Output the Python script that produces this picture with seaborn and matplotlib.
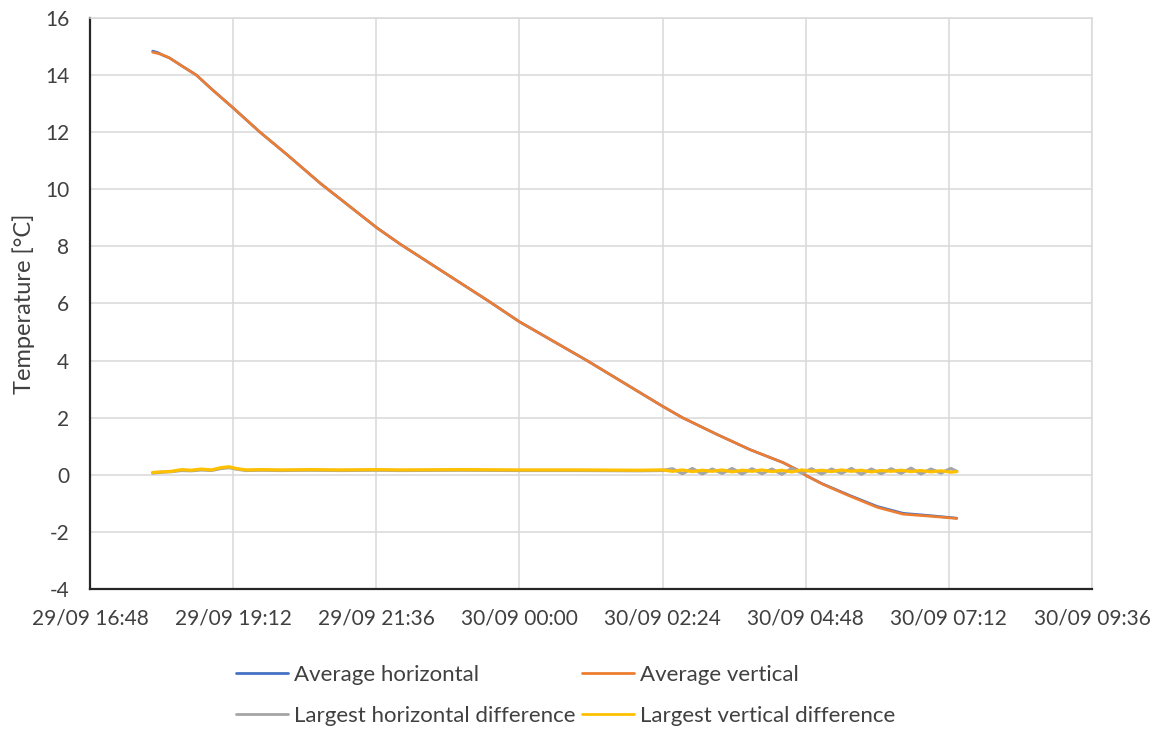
import pandas as pd
import matplotlib
matplotlib.use("Agg")
import matplotlib.pyplot as plt
import matplotlib.dates as mdates
from matplotlib.lines import Line2D
import seaborn as sns

# average temperatures
avg_times = ["2021-09-29 17:51", "2021-09-29 17:56", "2021-09-29 18:01", "2021-09-29 18:08",
             "2021-09-29 18:20", "2021-09-29 18:35", "2021-09-29 18:50", "2021-09-29 19:12",
             "2021-09-29 19:39", "2021-09-29 20:06", "2021-09-29 20:40", "2021-09-29 21:10",
             "2021-09-29 21:37", "2021-09-29 22:00", "2021-09-29 22:53", "2021-09-29 23:30",
             "2021-09-30 00:00", "2021-09-30 00:35", "2021-09-30 01:08", "2021-09-30 01:45",
             "2021-09-30 02:24", "2021-09-30 02:44", "2021-09-30 03:19", "2021-09-30 03:52",
             "2021-09-30 04:25", "2021-09-30 04:42", "2021-09-30 04:48", "2021-09-30 05:05",
             "2021-09-30 05:32", "2021-09-30 06:00", "2021-09-30 06:26", "2021-09-30 06:56",
             "2021-09-30 07:20"]
avg_horizontal = [14.84, 14.79, 14.70, 14.60, 14.33, 14.00, 13.52, 12.85, 12.00, 11.22, 10.20,
                  9.38, 8.64, 8.08, 6.89, 6.06, 5.36, 4.66, 4.00, 3.22, 2.40, 2.00, 1.41, 0.88,
                  0.43, 0.13, -0.02, -0.32, -0.72, -1.11, -1.35, -1.44, -1.52]
avg_vertical = [14.80, 14.76, 14.71, 14.60, 14.33, 14.00, 13.52, 12.85, 12.00, 11.22, 10.20,
                9.38, 8.64, 8.08, 6.89, 6.06, 5.36, 4.66, 4.00, 3.22, 2.40, 2.00, 1.41, 0.88,
                0.43, 0.13, -0.02, -0.33, -0.74, -1.14, -1.38, -1.46, -1.53]

# largest differences between sensors
diff_times = ["2021-09-29 17:51", "2021-09-29 18:00", "2021-09-29 18:10", "2021-09-29 18:20",
              "2021-09-29 18:30", "2021-09-29 18:40", "2021-09-29 18:50", "2021-09-29 19:00",
              "2021-09-29 19:08", "2021-09-29 19:15", "2021-09-29 19:25", "2021-09-29 19:40",
              "2021-09-29 20:00", "2021-09-29 20:30", "2021-09-29 21:00", "2021-09-29 21:36",
              "2021-09-29 22:00", "2021-09-29 23:00", "2021-09-30 00:00", "2021-09-30 01:00",
              "2021-09-30 02:00", "2021-09-30 02:24", "2021-09-30 02:34", "2021-09-30 02:44",
              "2021-09-30 02:54", "2021-09-30 03:04", "2021-09-30 03:14", "2021-09-30 03:24",
              "2021-09-30 03:34", "2021-09-30 03:44", "2021-09-30 03:54", "2021-09-30 04:04",
              "2021-09-30 04:14", "2021-09-30 04:24", "2021-09-30 04:34", "2021-09-30 04:44",
              "2021-09-30 04:54", "2021-09-30 05:04", "2021-09-30 05:14", "2021-09-30 05:24",
              "2021-09-30 05:34", "2021-09-30 05:44", "2021-09-30 05:54", "2021-09-30 06:04",
              "2021-09-30 06:14", "2021-09-30 06:24", "2021-09-30 06:34", "2021-09-30 06:44",
              "2021-09-30 06:54", "2021-09-30 07:04", "2021-09-30 07:14", "2021-09-30 07:20"]
largest_horizontal = [0.06, 0.09, 0.11, 0.15, 0.14, 0.17, 0.15, 0.22, 0.25, 0.20, 0.15, 0.16,
                      0.15, 0.16, 0.15, 0.16, 0.15, 0.16, 0.15, 0.15, 0.14, 0.15, 0.21, 0.04,
                      0.22, 0.03, 0.20, 0.05, 0.22, 0.03, 0.21, 0.04, 0.20, 0.02, 0.22, 0.06,
                      0.21, 0.03, 0.20, 0.05, 0.22, 0.02, 0.20, 0.04, 0.21, 0.05, 0.23, 0.03,
                      0.20, 0.06, 0.22, 0.12]
largest_vertical = [0.08, 0.10, 0.12, 0.18, 0.16, 0.20, 0.17, 0.25, 0.28, 0.22, 0.17, 0.18,
                    0.17, 0.18, 0.17, 0.18, 0.17, 0.18, 0.17, 0.17, 0.16, 0.17, 0.12, 0.17,
                    0.11, 0.16, 0.12, 0.17, 0.10, 0.16, 0.12, 0.17, 0.11, 0.16, 0.10, 0.17,
                    0.12, 0.16, 0.11, 0.17, 0.12, 0.16, 0.10, 0.15, 0.12, 0.16, 0.11, 0.15,
                    0.10, 0.14, 0.09, 0.11]

series_names = ["Average horizontal", "Average vertical",
                "Largest horizontal difference", "Largest vertical difference"]
series_colors = ["#4472C4", "#ED7D31", "#A5A5A5", "#FFC000"]

frames = []
for name, times, vals in [(series_names[0], avg_times, avg_horizontal),
                          (series_names[1], avg_times, avg_vertical),
                          (series_names[2], diff_times, largest_horizontal),
                          (series_names[3], diff_times, largest_vertical)]:
    frames.append(pd.DataFrame({"time": pd.to_datetime(times), "temp": vals, "series": name}))
df = pd.concat(frames, ignore_index=True)

sns.set_theme(style="white")
plt.rcParams["font.family"] = ["Lato", "DejaVu Sans"]
plt.rcParams["axes.unicode_minus"] = False
text_color = "#404040"

fig = plt.figure(figsize=(11.57, 7.31), dpi=100)
ax = fig.add_axes([0.0778, 0.1943, 0.8660, 0.7811])

sns.lineplot(data=df, x="time", y="temp", hue="series", hue_order=series_names,
             palette=series_colors, estimator=None, sort=False, linewidth=1.9,
             legend=False, ax=ax)
# the difference series are noisy in the source, so they read a bit thicker
for line in ax.get_lines()[2:]:
    line.set_linewidth(2.3)

x_start = pd.Timestamp("2021-09-29 16:48")
x_end = pd.Timestamp("2021-09-30 09:36")
ax.set_xlim(x_start, x_end)
ax.set_xticks(pd.date_range(x_start, x_end, freq="144min"))
ax.xaxis.set_major_formatter(mdates.DateFormatter("%d/%m %H:%M"))
ax.set_ylim(-4, 16)
ax.set_yticks(range(-4, 17, 2))

ax.grid(True, color="#D9D9D9", linewidth=1.1)
ax.set_axisbelow(True)
for side in ["top", "right"]:
    ax.spines[side].set_color("#D9D9D9")
    ax.spines[side].set_linewidth(1.1)
for side in ["left", "bottom"]:
    ax.spines[side].set_color("#262626")
    ax.spines[side].set_linewidth(1.6)

ax.tick_params(axis="both", length=0, labelsize=15, colors=text_color)
ax.tick_params(axis="y", pad=15)
ax.tick_params(axis="x", pad=14)
ax.set_xlabel("")
ax.set_ylabel("Temperature [°C]", fontsize=17, color=text_color, labelpad=7)

handles = [Line2D([], [], color=c, linewidth=2) for c in series_colors]
order = [0, 2, 1, 3]
fig.legend([handles[i] for i in order], [series_names[i] for i in order], ncol=2,
           loc="center", bbox_to_anchor=(0.489, 0.049), frameon=False, fontsize=16,
           handlelength=2.35, handletextpad=0.27, columnspacing=0.27, labelspacing=0.95,
           labelcolor=text_color)

fig.savefig("out.png", dpi=100)
